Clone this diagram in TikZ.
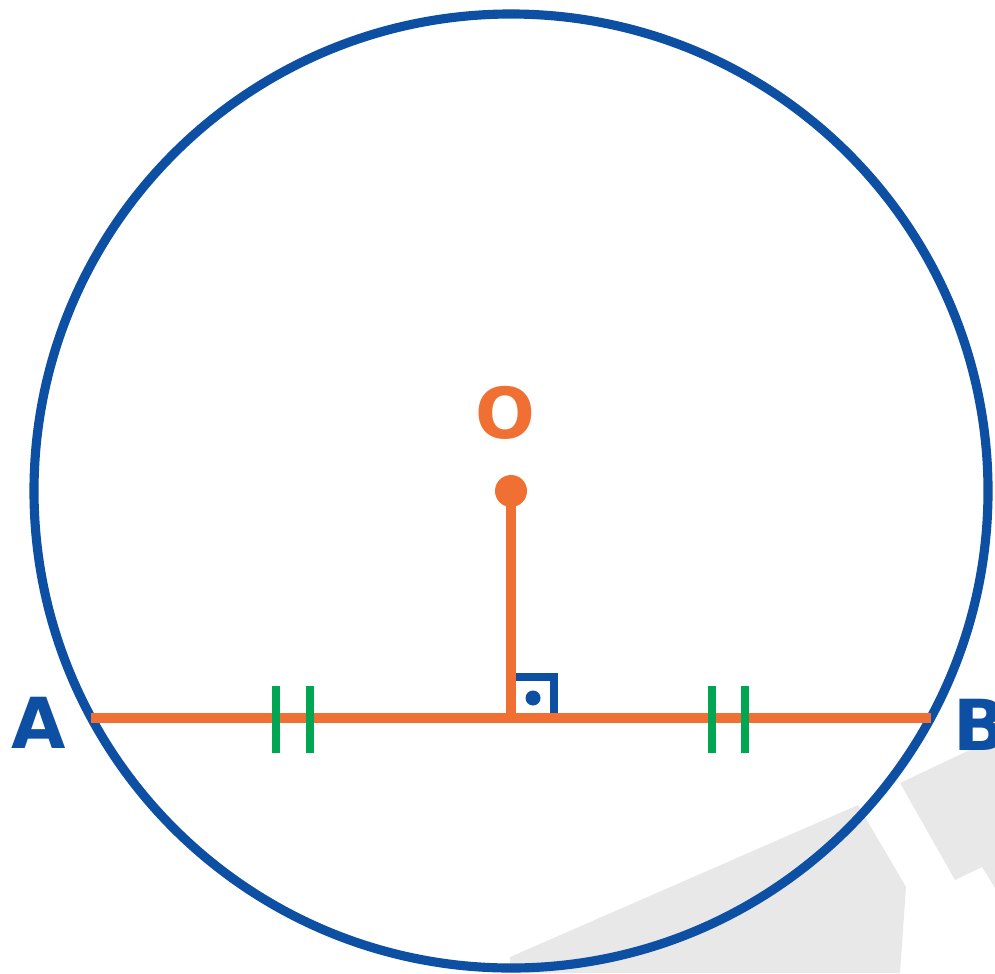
\documentclass[tikz,border=0pt]{standalone}
\usepackage{fontspec}
\setsansfont{DejaVu Sans}
\usetikzlibrary{positioning, calc}
\definecolor{circblue}{HTML}{0D4FA3}
\definecolor{segorange}{HTML}{F07033}
\definecolor{tickgreen}{HTML}{00A651}
\definecolor{shadegray}{HTML}{E8E8E8}

\begin{document}
\begin{tikzpicture}[
    x=0.01cm, y=-0.01cm,
    rim/.style={draw=circblue, line width=2.6pt},
    seg/.style={draw=segorange, line width=2.8pt},
    tick/.style={draw=tickgreen, line width=2.4pt},
    rightmark/.style={draw=circblue, line width=2.1pt},
    lbl/.style={font=\sffamily\bfseries\fontsize{20}{24}\selectfont}
]
\useasboundingbox (0,0) rectangle (995,973);

% Background shade
\fill[shadegray] (510,957) -- (858,805) -- (906,887) -- (900,973) -- (510,973) -- cycle;
\fill[shadegray] (900,783) -- (995,738) -- (995,888) -- (982,867) -- (955,880) -- cycle;

% Points
\coordinate (O) at (511,491);
\coordinate (A) at (91,718);
\coordinate (B) at (931,718);
\coordinate (H) at (511,718);

% Circle
\draw[rim] (O) circle (477);

% Right angle mark
\draw[rightmark] ($(H)+(4,-41)$) -- ($(H)+(43,-41)$) -- ($(H)+(43,0)$);
\fill[circblue] ($(H)+(22,-20)$) circle (7.5);

% Chord and distance
\draw[seg] (A) -- (B);
\draw[seg] (O) -- (H);
\fill[segorange] (O) circle (16);

% Equal marks
\foreach \xx in {276,310,712,745}
    \draw[tick] (\xx,686) -- (\xx,753);

% Labels
\node[lbl, text=segorange] (labO) at (505,413) {O};
\node[lbl, text=circblue] (labA) at (39,723) {A};
\node[lbl, text=circblue] (labB) at (980,725) {B};

\end{tikzpicture}
\end{document}
